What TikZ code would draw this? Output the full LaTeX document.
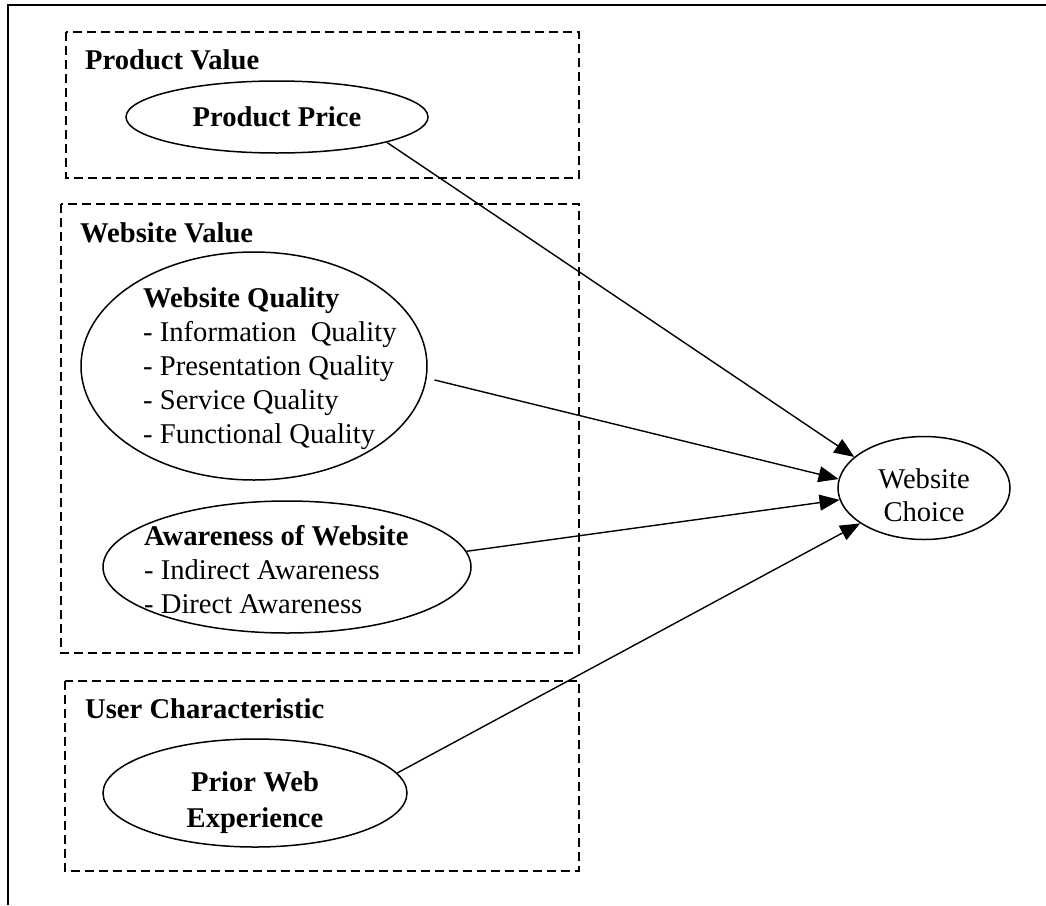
\documentclass[tikz,border=0pt]{standalone}
\usepackage{fontspec}
\setmainfont{Liberation Serif}
\usetikzlibrary{shapes.geometric,arrows.meta}

\tikzset{
  groupbox/.style={draw, line width=2pt, dash pattern=on 9pt off 5pt},
  construct/.style={draw, ellipse, line width=1.5pt, inner sep=0pt},
  grouptitle/.style={anchor=base west, inner sep=0pt, font=\fontsize{28.6}{34}\selectfont\bfseries},
  bodytext/.style={inner sep=0pt, font=\fontsize{28.6}{34}\selectfont},
  link/.style={line width=1.4pt, -{Triangle[length=20pt,width=16pt]}},
}

\begin{document}
\begin{tikzpicture}[x=1pt, y=-1pt]
\useasboundingbox (0,0) rectangle (1046,905);

% outer frame (top and left edges)
\coordinate (fbl) at (8,905);
\coordinate (ftl) at (8,5);
\coordinate (ftr) at (1046,5);
\draw[line width=2pt] (fbl) -- (ftl) -- (ftr);

% grouping boxes
\draw[groupbox] (66,32) rectangle (579,178);
\draw[groupbox] (61,204) rectangle (579,653);
\draw[groupbox] (65,681) rectangle (579,871);

\node[grouptitle] (pvt) at (85,69) {Product Value};
\node[grouptitle] (wvt) at (80,242) {Website Value};
\node[grouptitle] (uct) at (85,718) {User Characteristic};

% constructs
\node[construct, minimum width=302pt, minimum height=72pt, bodytext, font=\fontsize{28.6}{34}\selectfont\bfseries] (pp) at (277,117) {Product Price};

\node[construct, minimum width=346pt, minimum height=228pt] (wq) at (254,366) {};
\node[bodytext, anchor=north west, align=left] (wqt) at (143,287)
  {\textbf{Website Quality}\\- Information\ \ Quality\\- Presentation Quality\\- Service Quality\\- Functional Quality};

\node[construct, minimum width=368pt, minimum height=132pt] (aw) at (287,567) {};
\node[bodytext, anchor=north west, align=left] (awt) at (144,525)
  {\textbf{Awareness of Website}\\- Indirect Awareness\\- Direct Awareness};

\node[construct, minimum width=304pt, minimum height=108pt] (pw) at (255,793) {};
\node[bodytext, anchor=north, align=center, font=\fontsize{28.6}{36}\selectfont\bfseries] (pwt) at (255,771)
  {Prior Web\\Experience};

\node[construct, minimum width=172pt, minimum height=103pt] (wc) at (924,488) {};
\node[bodytext, anchor=north, align=center, font=\fontsize{28.6}{33}\selectfont] (wct) at (924,468)
  {Website\\Choice};

% effects on website choice
\draw[link] (pp.-13) -- (wc.156);
\draw[link, shorten <=8pt] (wq.-4) -- (wc.174);
\draw[link] (aw.5) -- (wc.-172);
\draw[link] (pw.8) -- (wc.-151);
\end{tikzpicture}
\end{document}
